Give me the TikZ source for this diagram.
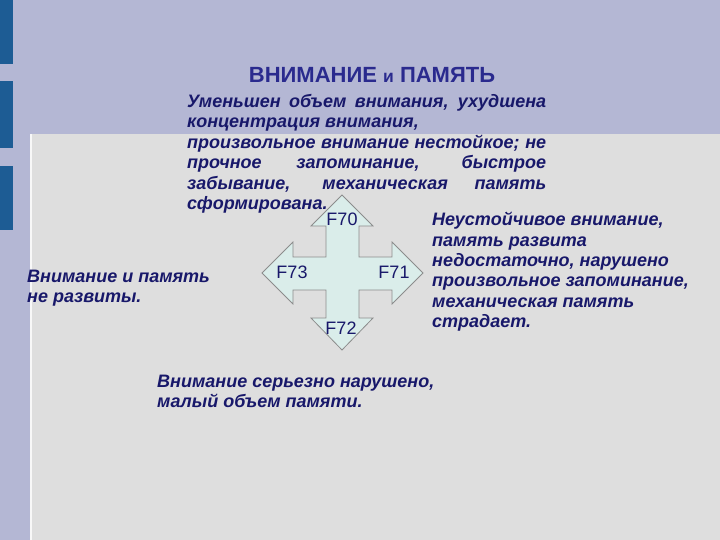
\documentclass[tikz,border=0pt]{standalone}
\usepackage{fontspec}
\setmainfont{Liberation Sans}
\usepackage{xcolor}
\usetikzlibrary{positioning}
\definecolor{bgblue}{HTML}{B4B7D4}
\definecolor{panelgray}{HTML}{DEDEDE}
\definecolor{barblue}{HTML}{1D5C94}
\definecolor{titleblue}{HTML}{2A2A8E}
\definecolor{textnavy}{HTML}{18186A}
\definecolor{crossfill}{HTML}{DAEDEA}
\definecolor{crossline}{HTML}{8C8C8C}

\begin{document}
\begin{tikzpicture}[x=1pt,y=-1pt,
  note/.style={inner sep=0pt,text=textnavy,align=left,
    font=\fontsize{18}{20.4}\selectfont\bfseries\itshape},
  flabel/.style={inner sep=0pt,text=textnavy,font=\fontsize{18}{18}\selectfont},
  bar/.style={fill=barblue,draw=none}]
  \useasboundingbox (0,0) rectangle (720,540);
  \fill[bgblue] (0,0) rectangle (720,540);
  \fill[panelgray] (30,134) rectangle (720,540);
  \draw[white!80!panelgray,line width=1.5pt] (31,134) -- (31,540);
  \fill[bar] (0,0) rectangle (13,64);
  \fill[bar] (0,81) rectangle (13,148);
  \fill[bar] (0,166) rectangle (13,230);
  \node[text=titleblue,font=\fontsize{22}{22}\selectfont\bfseries] (title) at (372,75)
    {ВНИМАНИЕ {\fontsize{17.5}{17.5}\selectfont и} ПАМЯТЬ};
  \draw[crossline,fill=crossfill,line width=0.8pt]
    (342,195) -- (373,226) -- (359,226) -- (359,257) -- (392,257) -- (392,242)
    -- (423,273) -- (392,304) -- (392,290) -- (359,290) -- (359,318) -- (373,318)
    -- (342,350) -- (311,318) -- (326,318) -- (326,290) -- (293,290) -- (293,304)
    -- (262,273) -- (293,242) -- (293,257) -- (326,257) -- (326,226) -- (311,226) -- cycle;
  \node[flabel] (f70) at (342,219) {F70};
  \node[flabel] (f71) at (394,272) {F71};
  \node[flabel] (f72) at (341,328) {F72};
  \node[flabel] (f73) at (292,272) {F73};
  \node[note,anchor=north west] (topnote) at (187,94)
    {\makebox[359pt][s]{Уменьшен объем внимания, ухудшена}\\
     концентрация внимания,\\
     \makebox[359pt][s]{произвольное внимание нестойкое; не}\\
     \makebox[359pt][s]{прочное запоминание, быстрое}\\
     \makebox[359pt][s]{забывание, механическая память}\\
     сформирована.};
  \node[note,anchor=north west] (rightnote) at (432,212)
    {Неустойчивое внимание,\\ память развита\\ недостаточно, нарушено\\
     произвольное запоминание,\\ механическая память\\ страдает.};
  \node[note,anchor=north west] (leftnote) at (27,270)
    {Внимание и память\\ не развиты.};
  \node[note,anchor=north west] (bottomnote) at (157,375)
    {Внимание серьезно нарушено,\\ малый объем памяти.};
\end{tikzpicture}
\end{document}
